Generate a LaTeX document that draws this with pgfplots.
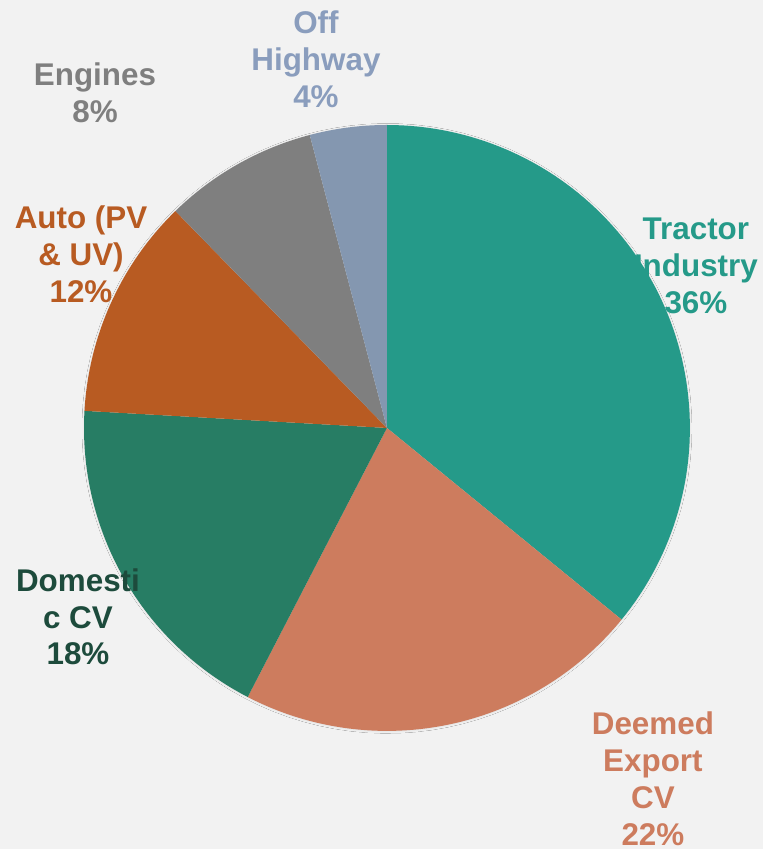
\documentclass[border=0pt]{standalone}
\usepackage{pgfplots}
\pgfplotsset{compat=1.18}
\usepackage{pgfplotstable}
\usetikzlibrary{shadows.blur}
\usepackage{fontspec}
\setmainfont{Liberation Sans}
\definecolor{bg}{HTML}{F2F2F2}
\definecolor{cTractor}{HTML}{259A89}
\definecolor{cDeemed}{HTML}{CD7C5E}
\definecolor{cDomestic}{HTML}{277D64}
\definecolor{cDomesticTxt}{HTML}{1D4B3C}
\definecolor{cAuto}{HTML}{B85B22}
\definecolor{cEngines}{HTML}{7F7F7F}
\definecolor{cOff}{HTML}{8497B0}
\definecolor{cOffTxt}{HTML}{8A9DBD}

% shares as drawn (labels show rounded values)
\pgfplotstableread{
label value
Tractor 35.9
Deemed 21.7
Domestic 18.3
Auto 11.8
Engines 8.2
OffHighway 4.1
}\piedata

\begin{document}
\begin{tikzpicture}
\fill[bg] (0,0) rectangle (763bp,849bp);
\pgfplotstablegetelem{0}{value}\of\piedata \let\vA\pgfplotsretval
\pgfplotstablegetelem{1}{value}\of\piedata \let\vB\pgfplotsretval
\pgfplotstablegetelem{2}{value}\of\piedata \let\vC\pgfplotsretval
\pgfplotstablegetelem{3}{value}\of\piedata \let\vD\pgfplotsretval
\pgfplotstablegetelem{4}{value}\of\piedata \let\vE\pgfplotsretval
\pgfplotstablegetelem{5}{value}\of\piedata \let\vF\pgfplotsretval
\pgfmathsetmacro\aO{90}
\pgfmathsetmacro\aA{\aO-3.6*\vA}
\pgfmathsetmacro\aB{\aA-3.6*\vB}
\pgfmathsetmacro\aC{\aB-3.6*\vC}
\pgfmathsetmacro\aD{\aC-3.6*\vD}
\pgfmathsetmacro\aE{\aD-3.6*\vE}
\pgfmathsetmacro\aF{\aE-3.6*\vF}
\begin{axis}[
  at={(0,0)}, anchor=south west,
  x=1bp, y=1bp, scale only axis,
  xmin=0, xmax=763, ymin=0, ymax=849,
  hide axis, clip=false,
  every axis plot/.append style={draw=none, samples=90, variable=\t},
  nodes={font=\fontsize{31.5}{37}\selectfont\bfseries, align=center},
]
\addplot[fill=bg, domain=0:360, samples=120, blur shadow={shadow xshift=0pt, shadow yshift=-0.5pt, shadow blur radius=4pt, shadow blur steps=16, shadow opacity=18, shadow scale=1.0}] ({387+301*cos(t)},{421+301*sin(t)}) -- cycle;
\addplot[fill=cTractor, domain=\aA:\aO] ({387+303*cos(t)},{421+303*sin(t)}) -- (axis cs:387,421) -- cycle;
\addplot[fill=cDeemed, domain=\aB:\aA] ({387+303*cos(t)},{421+303*sin(t)}) -- (axis cs:387,421) -- cycle;
\addplot[fill=cDomestic, domain=\aC:\aB] ({387+303*cos(t)},{421+303*sin(t)}) -- (axis cs:387,421) -- cycle;
\addplot[fill=cAuto, domain=\aD:\aC] ({387+303*cos(t)},{421+303*sin(t)}) -- (axis cs:387,421) -- cycle;
\addplot[fill=cEngines, domain=\aE:\aD] ({387+303*cos(t)},{421+303*sin(t)}) -- (axis cs:387,421) -- cycle;
\addplot[fill=cOff, domain=\aF:\aE] ({387+303*cos(t)},{421+303*sin(t)}) -- (axis cs:387,421) -- cycle;

\node[text=cTractor] at (axis cs:696,583) {Tractor\\Industry\\36\%};
\node[text=cDeemed] at (axis cs:653,70) {Deemed\\Export\\CV\\22\%};
\node[text=cDomesticTxt] at (axis cs:78,232) {Domesti\\c CV\\18\%};
\node[text=cAuto] at (axis cs:81,595) {Auto (PV\\\& UV)\\12\%};
\node[text=cEngines] at (axis cs:95,756) {Engines\\8\%};
\node[text=cOffTxt] at (axis cs:316,790) {Off\\Highway\\4\%};
\end{axis}
\end{tikzpicture}
\end{document}
